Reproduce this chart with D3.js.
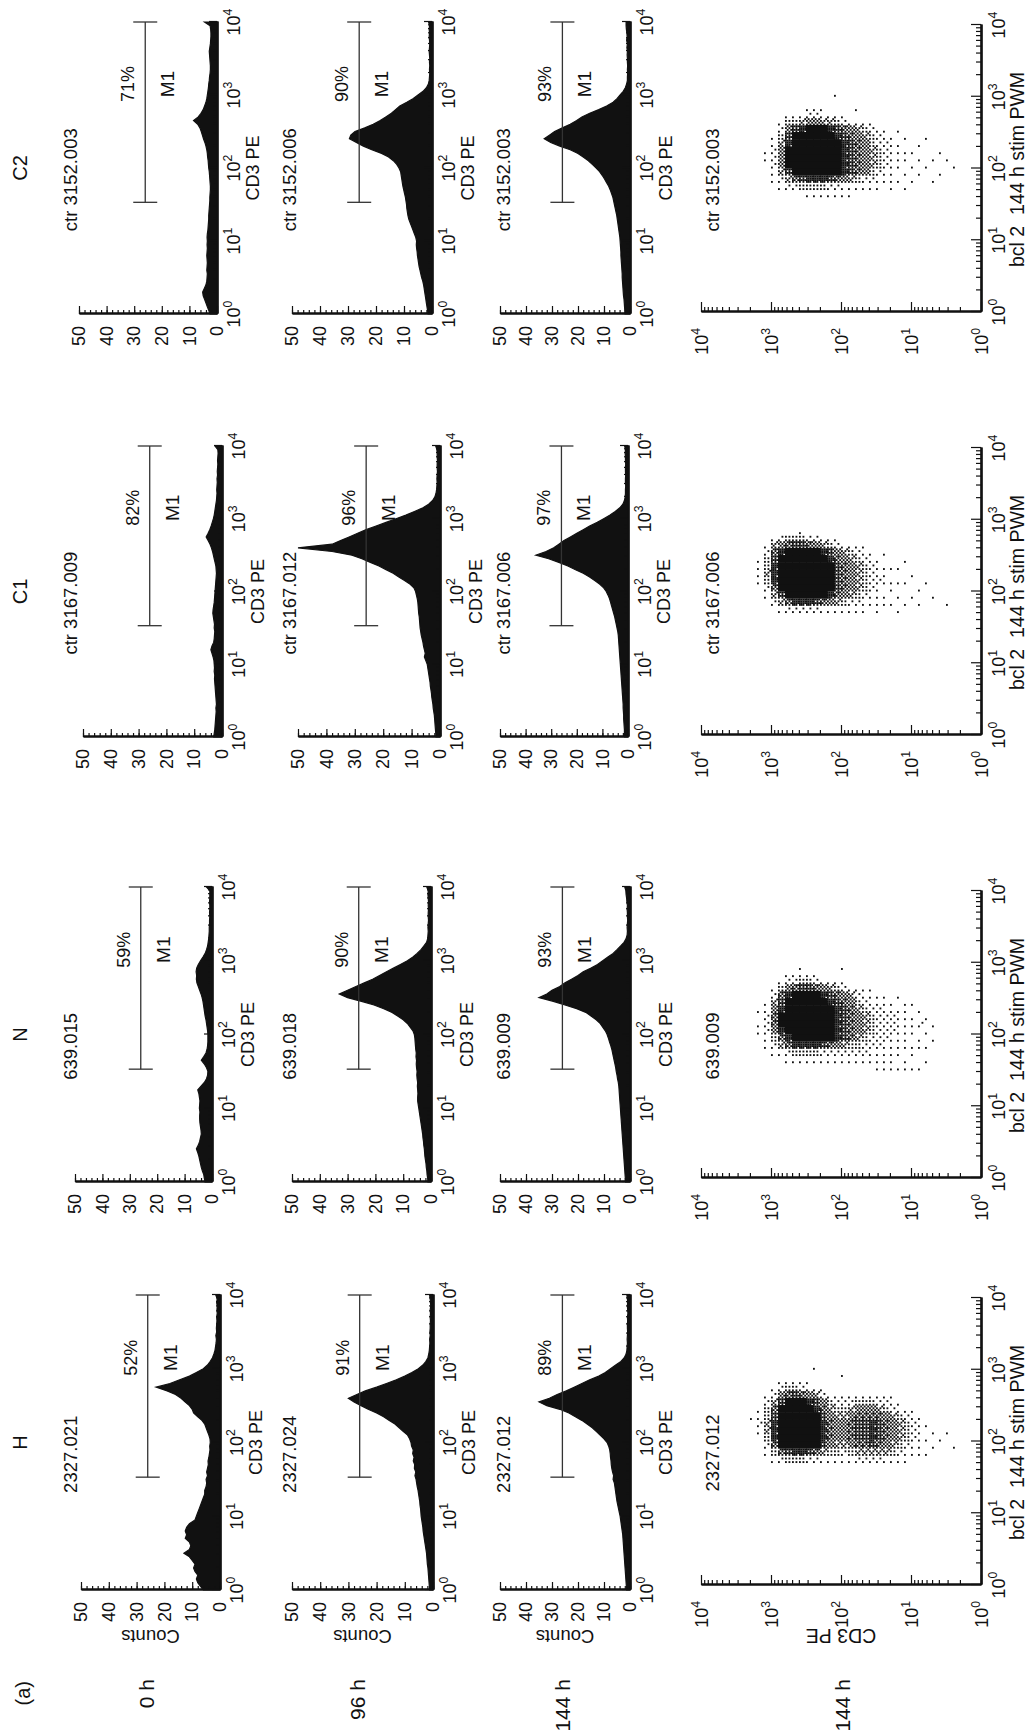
<!DOCTYPE html>
<html><head><meta charset="utf-8">
<script src="https://cdn.jsdelivr.net/npm/d3@7"></script>
<style>
body{margin:0;background:#fff}
svg{display:block}
text{font-family:"Liberation Sans",Arial,Helvetica,sans-serif;fill:#111}
</style>
</head><body>
<svg id="fig" width="1028" height="1731"></svg>
<script>
// ---------------- DATA ----------------
const columns = ["H", "N", "C1", "C2"];
const rowLabels = ["0 h", "96 h", "144 h", "144 h"];
const histSamples = [
  ["2327.021", "639.015", "ctr 3167.009", "ctr 3152.003"],
  ["2327.024", "639.018", "ctr 3167.012", "ctr 3152.006"],
  ["2327.012", "639.009", "ctr 3167.006", "ctr 3152.003"]
];
const scatterSamples = ["2327.012", "639.009", "ctr 3167.006", "ctr 3152.003"];
const m1Percent = [
  ["52%", "59%", "82%", "71%"],
  ["91%", "90%", "96%", "90%"],
  ["89%", "93%", "97%", "93%"]
];
const m1Label = "M1";
const m1RangeLog = [1.53, 4.0];
const m1Level = 26;
const countTicks = [0, 10, 20, 30, 40, 50];
const countMinorTicks = d3.range(0, 51, 2);
const decades = [0, 1, 2, 3, 4];
const histAxisTitle = "CD3 PE";
const countsTitle = "Counts";
const scatterXTitle = ["bcl 2", "144 h stim PWM"];
const scatterYTitle = "CD3 PE";
const panelTag = "(a)";
const histBinStep = 0.05; // log10 units per value, from 10^0 to 10^4

// histogram counts, 81 values each (10^0 ... 10^4 in steps of 0.05 decade)
const hist_H_0h = [6,7,8,8.5,8,9,9.5,9,10,11, 13,11,10.5,11,12.5,12,12.5,12,11,9, 8.5,8,7.5,7,6.5,6,5.5,5.5,5,4.8, 5,4.5,4.8,4.5,4.2,4.3,4,3.8,3.6,3.7, 3.5,3.6,4,4.5,5,5.5,6.5,8,9.5,10, 11,12.5,14,16,19,23,18,14.5,11,8.5, 6,4.5,3.5,2.7,2.2,1.8,1.6,1.4,1.3,1.5, 1.2,1.3,1.2,1.1,1.2,1.0,1.1,1.0,1.2,1.0, 1.5];
const hist_N_0h = [2.5,2.8,3.0,3.5,3.9,4.2,4.5,4.8,5.2,5.7, 5.0,4.5,4.2,3.9,4.0,4.2,4.4,4.5,4.5,4.4, 4.6,4.5,4.4,4.6,4.8,5.2,4.0,2.8,2.0,1.6, 1.5,2.0,2.8,3.9,3.0,2.2,1.8,1.6,1.5,1.5, 1.5,1.6,1.8,2.0,2.2,2.5,2.7,2.9,3.1,3.3, 3.6,4.0,4.5,5.0,5.5,5.7,5.6,5.8,5.6,5.0, 4.2,3.3,2.5,2.0,1.6,1.4,1.2,1.1,1.0,1.0, 0.9,0.9,0.8,0.9,0.8,0.8,0.9,0.8,0.8,0.8, 2.0];
const hist_C1_0h = [3.0,2.8,2.6,2.5,2.4,2.3,2.2,2.1,2.2,2.0, 2.1,2.2,2.3,2.4,2.5,2.6,2.7,2.6,2.8,2.7, 2.8,2.9,3.2,3.6,4.0,3.6,3.0,2.8,2.7,2.6, 2.8,2.7,2.9,3.1,3.3,3.2,3.0,2.8,2.7,2.6, 2.5,2.4,2.3,2.2,2.1,2.0,2.1,2.2,2.5,2.8, 3.1,3.4,3.8,4.3,5.0,5.7,5.0,4.4,3.9,3.5, 3.1,2.8,2.6,2.4,2.2,2.0,1.9,1.8,1.9,1.8, 1.7,1.8,1.6,1.7,1.6,1.5,1.6,1.5,1.4,1.5, 2.5];
const hist_C2_0h = [2.5,3.0,3.5,4.0,4.5,5.0,5.2,4.6,4.0,3.7, 3.6,3.5,3.7,3.6,3.5,3.6,3.7,3.6,3.5,3.6, 3.5,3.6,3.5,3.3,3.2,3.1,3.0,3.0,2.9,2.8, 2.7,2.6,2.6,2.5,2.4,2.4,2.5,2.6,2.7,2.8, 3.0,3.1,3.2,3.4,3.5,3.7,4.0,4.4,4.9,5.3, 5.7,6.2,7.0,8.5,6.8,5.8,5.0,4.5,4.0,3.7, 3.5,3.3,3.1,3.0,2.8,2.7,2.5,2.4,2.4,2.5, 2.6,2.7,2.8,2.6,2.4,2.3,2.2,2.2,2.3,2.5, 4.5];
const hist_H_96h = [1.2,1.3,1.4,1.5,1.6,1.7,1.8,2.0,2.1,2.2, 2.3,2.5,2.7,2.9,3.1,3.3,3.5,3.6,3.8,4.0, 4.2,4.3,4.4,4.6,4.7,4.9,5.1,5.3,5.6,5.8, 6.0,6.4,6.1,6.6,6.5,7.0,6.7,7.2,7.0,7.6, 7.8,8.3,9,10.5,12,13.5,15.5,17.5,20,23, 25.5,28,30,27,24,20,16.5,13,10,7.5, 5.2,3.6,2.5,1.8,1.5,1.3,1.2,1.1,1.2,1.0, 1.1,1.0,1.0,0.9,1.0,0.9,1.0,0.8,0.9,1.0, 1.2];
const hist_N_96h = [1.1,1.2,1.4,1.5,1.7,1.8,2.0,2.2,2.3,2.4, 2.6,2.7,2.9,3.0,3.2,3.4,3.6,3.8,4.0,4.2, 4.4,4.6,4.8,4.8,4.7,4.8,4.9,4.8,5.0,5.1, 5.0,5.2,5.3,5.2,5.4,5.3,5.5,5.6,5.7,5.8, 6.0,6.5,7.5,8.5,10,12,14,17,20.5,25, 30,33,30,27,24,21,18.5,16,13.5,11, 8.5,6.5,5,3.6,2.6,1.6,1.2,1.1,1.0,1.1, 1.0,0.9,1.0,1.0,0.9,1.0,0.9,1.0,1.1,1.0, 1.5];
const hist_C1_96h = [1.4,1.5,1.6,1.7,1.8,1.9,2.0,2.2,2.4,2.5, 2.7,2.9,3.0,3.2,3.4,3.5,3.7,3.9,4.1,4.3, 4.5,5.0,5.5,5.2,5.5,5.8,6.0,6.3,6.6,6.8, 7.0,7.1,7.2,7.3,7.5,7.6,7.7,7.8,8.0,8.3, 8.6,9.2,10.5,12.5,14.5,16.5,19,21.5,24.5,27.5, 31,38,50,38,35,32,29,26,22.5,19, 15.5,12,9,6,4,2.6,1.8,1.4,1.2,1.1, 1.0,1.1,1.0,0.9,1.0,1.0,0.9,1.0,1.0,1.1, 1.5];
const hist_C2_96h = [1.4,1.6,1.8,2.0,2.2,2.4,2.6,2.8,3.0,3.3, 3.7,4.0,4.3,4.6,4.8,5.0,5.2,5.3,5.5,5.6, 5.5,5.8,6.3,6.8,7.3,7.8,8.3,8.6,8.8,9.0, 9.1,9.3,9.5,9.8,10.1,10.4,10.6,10.8,11.0,11.2, 11.8,12.6,13.8,15.5,18,21.5,24.5,27,29.5,29, 27.5,24,21,18.5,16.5,14.5,13,11.5,9,6.8, 5,3.2,2,1.3,1.0,0.9,0.8,0.9,0.8,0.9, 0.8,0.9,1.0,0.9,0.8,0.9,1.0,0.9,1.0,0.9, 1.2];
const hist_H_144h = [1.3,1.4,1.5,1.6,1.7,1.8,1.9,2.0,2.1,2.2, 2.3,2.4,2.5,2.6,2.7,2.8,3.0,3.2,3.4,3.6, 3.8,4.1,4.4,4.7,5.0,5.2,5.4,5.6,5.8,6.0, 6.5,6.3,6.7,7.0,7.2,7.3,7.5,7.6,7.8,8.2, 8.8,10,11.5,13,14.5,16.5,18.5,21,23.5,27, 32,35,31,28,24.5,21.5,18.5,15.5,12,9.5, 7.5,5.5,3.5,2.2,1.5,1.2,1.1,1.0,1.1,1.0, 0.9,1.0,1.0,0.9,1.0,0.8,0.9,1.0,0.9,1.0, 1.2];
const hist_N_144h = [1.7,1.8,1.9,2.0,2.1,2.2,2.3,2.4,2.5,2.6, 2.7,2.8,2.9,3.0,3.1,3.2,3.3,3.4,3.5,3.6, 3.7,3.8,3.9,4.0,4.1,4.2,4.3,4.5,4.8,5.0, 5.3,5.5,5.8,6.1,6.4,6.7,7.0,7.4,7.9,8.3, 8.8,9.5,10.5,11.5,13,15,17,20.5,25,29.5, 35,32,30,27,25,22.5,20,18,15,12.5, 10.5,8.5,6.5,5,3.6,2.3,1.5,1.1,1.0,1.1, 1.0,0.9,1.0,1.0,1.1,1.0,1.2,1.3,1.5,1.6, 2.0];
const hist_C1_144h = [1.3,1.4,1.4,1.5,1.6,1.7,1.7,1.8,1.9,1.9, 2.0,2.1,2.2,2.3,2.4,2.5,2.6,2.7,2.8,2.9, 3.0,3.1,3.2,3.3,3.4,3.5,3.6,3.7,3.8,4.0, 4.3,4.6,4.9,5.2,5.6,6.0,6.4,6.8,7.2,7.8, 8.5,9.5,11,13,15,17.5,20.5,23.5,27,31, 36,32,29,27,25,22.5,20,17.5,15,12, 9.5,7,5,3.2,2,1.4,1.1,1.0,1.0,0.9, 1.0,1.0,0.9,1.0,1.0,0.9,1.0,1.0,1.1,1.0, 1.3];
const hist_C2_144h = [1.9,2.0,2.1,2.2,2.3,2.5,2.6,2.7,2.8,2.9, 3.0,3.0,3.1,3.2,3.3,3.4,3.5,3.5,3.6,3.7, 3.8,3.9,4.1,4.3,4.5,4.7,4.9,5.1,5.4,5.7, 6.0,6.3,6.6,7.1,7.6,8.2,9.0,9.8,10.7,11.7, 13,14.5,16,18,20,23,27,30.5,33,31, 29,26,23,20.5,18.5,15.5,12,9,6.5,5, 3.8,2.6,1.8,1.3,1.0,1.0,0.9,1.0,0.9,1.0, 1.0,1.1,1.0,1.2,1.0,1.3,1.1,1.2,1.4,1.5, 1.5];

// dot-plot densities (0-9) on a 0.1-decade grid.
// rows: CD3 PE from 10^3.2-3.3 (first) down to 10^0.0-0.1 (last)
// chars: bcl 2 from 10^1.4 (first) to 10^3.2 (last)
const scatterGridTopLog = 3.3;
const scatterGridLeftLog = 1.4;
const scatterCellLog = 0.1;
const dots_H = [
"0000000001000000000","0000000121100000000","0000123443321000000","0001368887642100000",
"0002699999975210000","0003799999996310000","0003899999997310000","0003899999996210000",
"0002799999985110000","0002699999874100100","0001478887652100000","0001356665431000000",
"0001345554321000000","0001245554321001000","0001356665421000000","0002467776531000000",
"0002467776531000000","0002478886531000000","0002467776421000000","0001456665321000000",
"0001345554211000000","0001234443110000000","0001123332100000000","0000112221100000000",
"0000111111000000000","0000101010000000000","0000010100000000000","0000001000000000000",
"0000000100000000000","0000010000000000000","0000000000000000000","0000000000000000000",
"0000000000000000000"];
const dots_N = [
"0000000000000000000","0000001101000000000","0000112221100000000","0001235665421000000",
"0001468998763100000","0012689999985210000","0013899999996210000","0013899999997311000",
"0013899999997310000","0013899999996210000","0012799999985100000","0012699999874100000",
"0012588888763100000","0012477777652101000","0012366666541000000","0012345554321000000",
"0012234443211000000","0011223332111000000","0111222222110000000","0111122221110000000",
"0111112221100000000","0101111111010000000","0110111111100000000","0101101110100000000",
"0100110201000000000","0010101010000000000","0000010100000000000","0000000000000000000",
"0000000000000000000","0000000000000000000","0000000000000000000","0000000000000000000",
"0000000000000000000"];
const dots_C1 = [
"0000000000000000000","0000000111100000000","0000012343321000000","0000246888764100000",
"0001479999985200000","0002699999996300000","0002899999997300000","0002899999997310000",
"0002899999996200000","0002799999995200000","0001699999984100000","0001589999873100000",
"0001467777652100000","0001356666541000000","0001245555431000000","0001234444321000000",
"0001123333211000000","0000112222110000000","0001111211100000000","0000110111010000000",
"0000101101000000000","0001010101000000000","0000100100100000000","0000010010000000000",
"0000101000000000000","0000000100000000000","0000010000000000000","0000000000000000000",
"0000100000000000000","0000000000000000000","0000000000000000000","0000000000000000000",
"0000000000000000000"];
const dots_C2 = [
"0000000000000000000","0000000000000000000","0000000110000000000","0000112221100000000",
"0001245554321000000","0002479998753100000","0002699999973100000","0003799999984100000",
"0013899999995210000","0013899999995210000","0013899999994110000","0012799999984100000",
"0012699999873100100","0011588888762100000","0011477777651000000","0001366666541010000",
"0001255555431000000","0001234443321000000","0001123332210000000","0000112222110000000",
"0001111111100000000","0000101111010000000","0001010110100000000","0000101010000000000",
"0000010101000000000","0000001000100000000","0000100100000000000","0000010010000000000",
"0000000100000000000","0000001000000000000","0000000000000000000","0000000000000000000",
"0000000000000000000"];

const histData = [
  [hist_H_0h, hist_N_0h, hist_C1_0h, hist_C2_0h],
  [hist_H_96h, hist_N_96h, hist_C1_96h, hist_C2_96h],
  [hist_H_144h, hist_N_144h, hist_C1_144h, hist_C2_144h]
];
const scatterData = [dots_H, dots_N, dots_C1, dots_C2];

// ---------------- LAYOUT (original landscape frame, rotated onto the page) ----------------
const FW = 1731, FH = 1028;
const histX0 = [141, 549, 994, 1417];
const histX1 = [436, 844, 1285, 1709];
const histTop = [[81, 75, 83, 79], [292, 292, 298, 292], [500, 500, 500, 500]];
const histBase = [[220, 212, 222, 217], [433, 431, 440, 432], [630, 630, 628, 630]];
const sampleCenter = [70, 289, 503, 712];
const rowLabelCenter = [147, 358, 563, 843];
const scatX0 = [146, 553, 996, 1419];
const scatX1 = [433, 840, 1283, 1706];
const scatTop = 701, scatBase = 981;
const INK = "#111";

const svg = d3.select("#fig");
svg.append("rect").attr("width", 1028).attr("height", 1731).attr("fill", "#fff");
const g = svg.append("g").attr("transform", `translate(0,${FW}) rotate(-90)`);

function powLabel(sel, x, y, exp, anchor, size) {
  const t = sel.append("text").attr("x", x).attr("y", y)
    .attr("text-anchor", anchor).attr("font-size", size);
  t.append("tspan").text("10");
  t.append("tspan").attr("dy", -size * 0.42).attr("font-size", size * 0.68).text(exp);
  return t;
}
function styleAxis(a) {
  a.selectAll(".domain").attr("stroke", INK).attr("stroke-width", 2.2);
  a.selectAll(".tick line").attr("stroke", INK).attr("stroke-width", 1.2);
}

// column headers
columns.forEach((c, i) => {
  g.append("text").attr("x", (histX0[i] + histX1[i]) / 2).attr("y", 27)
    .attr("text-anchor", "middle").attr("font-size", 20).text(c);
});
// tag and row labels
g.append("text").attr("x", 50).attr("y", 30).attr("text-anchor", "end").attr("font-size", 20).text(panelTag);
rowLabels.forEach((l, r) => {
  g.append("text").attr("x", 52).attr("y", rowLabelCenter[r] + 7)
    .attr("text-anchor", "end").attr("font-size", 21).text(l);
});

// histograms
histData.forEach((row, r) => row.forEach((vals, c) => {
  const x0 = histX0[c], x1 = histX1[c], top = histTop[r][c], base = histBase[r][c];
  const x = d3.scaleLog().domain([1, 1e4]).range([x0, x1]);
  const y = d3.scaleLinear().domain([0, 50]).range([base, top]).clamp(true);
  const p = g.append("g");
  const pts = vals.map((v, i) => ({e: Math.pow(10, i * histBinStep), v}));
  p.append("path").datum(pts)
    .attr("d", d3.area().x(d => x(d.e)).y0(base).y1(d => y(d.v)))
    .attr("fill", INK).attr("stroke", INK).attr("stroke-width", 1.2).attr("stroke-linejoin", "miter");

  const minor = x.ticks().filter(t => Math.abs(Math.log10(t) - Math.round(Math.log10(t))) > 1e-6);
  const major = decades.map(e => Math.pow(10, e));
  const ax1 = p.append("g").attr("transform", `translate(0,${base})`)
    .call(d3.axisBottom(x).tickValues(minor).tickSizeInner(-4).tickSizeOuter(0).tickFormat(""));
  const ax2 = p.append("g").attr("transform", `translate(0,${base})`)
    .call(d3.axisBottom(x).tickValues(major).tickSizeInner(-8).tickSizeOuter(0).tickFormat(""));
  styleAxis(ax1); styleAxis(ax2);
  decades.forEach(e => powLabel(p, x(Math.pow(10, e)), base + 23, e, "middle", 18));

  const ay1 = p.append("g").attr("transform", `translate(${x0},0)`)
    .call(d3.axisLeft(y).tickValues(countMinorTicks).tickSizeInner(-4).tickSizeOuter(0).tickFormat(""));
  const ay2 = p.append("g").attr("transform", `translate(${x0},0)`)
    .call(d3.axisLeft(y).tickValues(countTicks).tickSizeInner(-8).tickSizeOuter(0).tickPadding(12));
  styleAxis(ay1); styleAxis(ay2);
  ay2.selectAll("text").attr("font-size", 18).attr("font-family", null).attr("fill", INK);

  // M1 marker
  const my = y(m1Level), ma = x(Math.pow(10, m1RangeLog[0])), mb = x(Math.pow(10, m1RangeLog[1]));
  const mk = p.append("g").attr("stroke", "#333").attr("stroke-width", 1.3);
  mk.append("line").attr("x1", ma).attr("x2", mb).attr("y1", my).attr("y2", my);
  mk.append("line").attr("x1", ma).attr("x2", ma).attr("y1", my - 12).attr("y2", my + 12);
  mk.append("line").attr("x1", mb).attr("x2", mb).attr("y1", my - 12).attr("y2", my + 12);
  const lx = x(Math.pow(10, 3.15));
  p.append("text").attr("x", lx).attr("y", my - 11).attr("text-anchor", "middle").attr("font-size", 18).text(m1Percent[r][c]);
  p.append("text").attr("x", lx).attr("y", my + 29).attr("text-anchor", "middle").attr("font-size", 19).text(m1Label);

  p.append("text").attr("x", x0 + 0.46 * (x1 - x0)).attr("y", sampleCenter[r] + 6.5)
    .attr("text-anchor", "middle").attr("font-size", 18.5).text(histSamples[r][c]);
  p.append("text").attr("x", (x0 + x1) / 2).attr("y", base + 42)
    .attr("text-anchor", "middle").attr("font-size", 18).text(histAxisTitle);
  if (c === 0) {
    p.append("text").attr("transform", `translate(${x0 - 40},${(top + base) / 2}) rotate(-90)`)
      .attr("text-anchor", "middle").attr("font-size", 18.5).text(countsTitle);
  }
}));

// dot plots
const bayer = [[0, 8, 2, 10], [12, 4, 14, 6], [3, 11, 1, 9], [15, 7, 13, 5]];
const dotsForDensity = [0, 1, 2, 4, 6, 8, 10, 12, 15, 16];
scatterData.forEach((grid, c) => {
  const x0 = scatX0[c], x1 = scatX1[c];
  const x = d3.scaleLog().domain([1, 1e4]).range([x0, x1]);
  const y = d3.scaleLog().domain([1, 1e4]).range([scatBase, scatTop]);
  const p = g.append("g");
  const cells = [];
  grid.forEach((rowStr, ri) => {
    const cLo = scatterGridTopLog - scatterCellLog * (ri + 1);
    for (let j = 0; j < rowStr.length; j++) {
      const d = +rowStr[j];
      if (!d) continue;
      const bLo = scatterGridLeftLog + scatterCellLog * j;
      cells.push({bLo, cLo, d});
    }
  });
  const dots = [];
  cells.forEach(cell => {
    const xa = x(Math.pow(10, cell.bLo)), xb = x(Math.pow(10, cell.bLo + scatterCellLog));
    const ya = y(Math.pow(10, cell.cLo + scatterCellLog)), yb = y(Math.pow(10, cell.cLo));
    const sw = (xb - xa) / 4, sh = (yb - ya) / 4, n = dotsForDensity[cell.d];
    if (n >= 16) { dots.push({x: xa, y: ya, w: xb - xa + 0.6, h: yb - ya + 0.6}); return; }
    for (let v = 0; v < 4; v++) for (let u = 0; u < 4; u++) {
      if (bayer[v][u] < n) dots.push({x: xa + u * sw, y: ya + v * sh, w: sw * 1.05, h: sh * 1.05});
    }
  });
  p.append("g").selectAll("rect").data(dots).join("rect")
    .attr("x", d => d.x).attr("y", d => d.y).attr("width", d => d.w).attr("height", d => d.h)
    .attr("fill", INK);

  const minorX = x.ticks().filter(t => Math.abs(Math.log10(t) - Math.round(Math.log10(t))) > 1e-6);
  const major = decades.map(e => Math.pow(10, e));
  [[minorX, -5], [major, -10]].forEach(([tv, s]) => {
    const a = p.append("g").attr("transform", `translate(0,${scatBase})`)
      .call(d3.axisBottom(x).tickValues(tv).tickSizeInner(s).tickSizeOuter(0).tickFormat(""));
    styleAxis(a);
    const b = p.append("g").attr("transform", `translate(${x0},0)`)
      .call(d3.axisLeft(y).tickValues(tv).tickSizeInner(s).tickSizeOuter(0).tickFormat(""));
    styleAxis(b);
  });
  decades.forEach(e => {
    powLabel(p, x(Math.pow(10, e)), scatBase + 24, e, "middle", 18);
    powLabel(p, x0 - 16, y(Math.pow(10, e)) + 6.5, e, "end", 18);
  });
  p.append("text").attr("x", x0 + 45).attr("y", 1024).attr("font-size", 19.5).text(scatterXTitle[0]);
  p.append("text").attr("x", x0 + 97).attr("y", 1024).attr("font-size", 19.5).text(scatterXTitle[1]);
  p.append("text").attr("x", x0 + 0.46 * (x1 - x0)).attr("y", sampleCenter[3] + 6.5)
    .attr("text-anchor", "middle").attr("font-size", 18.5).text(scatterSamples[c]);
  if (c === 0) {
    p.append("text").attr("transform", `translate(${x0 - 44},${(scatTop + scatBase) / 2}) rotate(-90)`)
      .attr("text-anchor", "middle").attr("font-size", 19.5).text(scatterYTitle);
  }
});
</script>
</body></html>
